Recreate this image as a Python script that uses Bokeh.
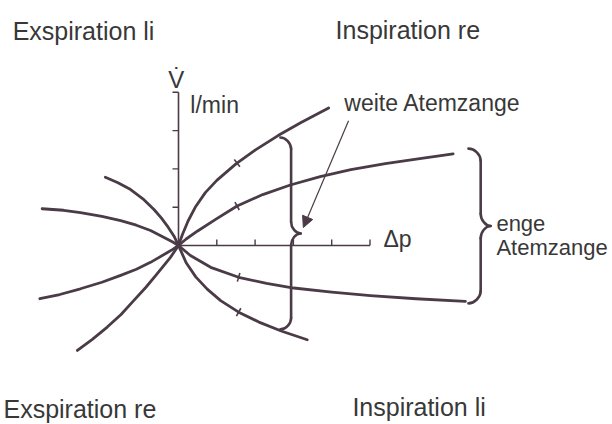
import numpy as np
from bokeh.plotting import figure
from bokeh.models import Label, Arrow, NormalHead, Range1d
from bokeh.embed import file_html
from bokeh.resources import INLINE

# Δp (x) and V̇ (y), in axis-tick units
# Inspiration re (upper right): weite / enge Atemzange
insp_re_weit_x = [0, 0.1, 0.25, 0.45, 0.7, 1.0, 1.5, 2.0, 2.6, 3.2, 3.92]
insp_re_weit_y = [0, 0.28, 0.64, 1.02, 1.38, 1.70, 2.13, 2.49, 2.87, 3.21, 3.59]
insp_re_eng_x = [0, 0.2, 0.5, 1.0, 1.53, 2.2, 2.92, 3.7, 4.5, 5.4, 6.3, 7.17]
insp_re_eng_y = [0, 0.17, 0.38, 0.70, 1.03, 1.33, 1.58, 1.80, 1.98, 2.14, 2.27, 2.39]
# Inspiration li (lower right)
insp_li_eng_x = [0, 0.31, 0.84, 1.57, 2.3, 3.01, 4.0, 5.01, 6.2, 7.49]
insp_li_eng_y = [0, -0.26, -0.57, -0.83, -0.99, -1.11, -1.22, -1.31, -1.39, -1.46]
insp_li_weit_x = [0, 0.2, 0.45, 0.75, 1.1, 1.57, 2.1, 2.7, 3.36]
insp_li_weit_y = [0, -0.45, -0.82, -1.14, -1.44, -1.74, -2.0, -2.24, -2.46]
# Exspiration li (upper left)
exsp_li_steil_x = [0, -0.12, -0.30, -0.45, -0.64, -0.93, -1.25, -1.58, -1.91]
exsp_li_steil_y = [0, 0.25, 0.52, 0.72, 0.94, 1.22, 1.46, 1.64, 1.78]
exsp_li_flach_x = [0, -0.15, -0.30, -0.73, -1.1, -1.51, -2.0, -2.56, -3.0, -3.56]
exsp_li_flach_y = [0, 0.09, 0.17, 0.39, 0.53, 0.65, 0.76, 0.86, 0.92, 0.96]
# Exspiration re (lower left)
exsp_re_flach_x = [0, -0.15, -0.30, -0.73, -1.1, -1.51, -2.0, -2.56, -3.1, -3.62]
exsp_re_flach_y = [0, -0.10, -0.19, -0.44, -0.62, -0.78, -0.96, -1.13, -1.28, -1.39]
exsp_re_steil_x = [0, -0.21, -0.56, -0.85, -1.17, -1.5, -1.86, -2.25, -2.64]
exsp_re_steil_y = [0, -0.31, -0.74, -1.09, -1.44, -1.80, -2.13, -2.45, -2.74]

# small marks on the four inspiration curves (Δp position)
curve_mark_x = [1.53, 1.53, 1.57, 1.57]

# axes
x_ticks = [1, 2, 3, 4, 5]
y_ticks = [1, 2, 3, 4]

LINE = "#4b3b47"
TEXT = "#383838"
FONT = "Liberation Sans"

UNIT = 38.3  # px per unit
OX, OY = 178, 245  # origin position in the picture
W, H = 612, 424
p = figure(width=W, height=H, output_backend="svg", toolbar_location=None,
           x_range=Range1d(-OX / UNIT, (W - OX) / UNIT),
           y_range=Range1d((OY - H) / UNIT, OY / UNIT),
           min_border=0)
p.axis.visible = False
p.grid.visible = False
p.outline_line_color = None
p.background_fill_color = "white"

curves = [
    (insp_re_weit_x, insp_re_weit_y), (insp_re_eng_x, insp_re_eng_y),
    (insp_li_eng_x, insp_li_eng_y), (insp_li_weit_x, insp_li_weit_y),
    (exsp_li_steil_x, exsp_li_steil_y), (exsp_li_flach_x, exsp_li_flach_y),
    (exsp_re_flach_x, exsp_re_flach_y), (exsp_re_steil_x, exsp_re_steil_y),
]
p.multi_line(xs=[c[0] for c in curves], ys=[c[1] for c in curves],
             line_color=LINE, line_width=2.8, line_cap="round", line_join="round")

# perpendicular marks on curves
mx, my, ma = [], [], []
for (cx, cy), tx in zip(curves[:4], curve_mark_x):
    cx = np.asarray(cx, float); cy = np.asarray(cy, float)
    slope = np.gradient(cy, cx)
    ty = float(np.interp(tx, cx, cy))
    s = float(np.interp(tx, cx, slope))
    mx.append(tx); my.append(ty); ma.append(np.arctan(s) + np.pi / 2)
p.scatter(mx, my, marker="dash", size=9, angle=ma, line_color=LINE, line_width=1.6)

# axes lines
p.line([0, x_ticks[-1]], [0, 0], line_color=LINE, line_width=1.6)
p.line([0, 0], [0, y_ticks[-1]], line_color=LINE, line_width=1.6)
tl = 6 / UNIT
p.segment(x0=x_ticks, y0=[0] * len(x_ticks), x1=x_ticks, y1=[tl] * len(x_ticks),
          line_color=LINE, line_width=1.4)
p.segment(x0=[0] * len(y_ticks), y0=y_ticks, x1=[-tl] * len(y_ticks), y1=y_ticks,
          line_color=LINE, line_width=1.4)


def brace(xl, xs, xc, y_top, y_bot, r):
    ym = (y_top + y_bot) / 2
    k = 0.5
    segs = [
        (xl, y_top, xs, y_top - r, xs - (xs - xl) * k, y_top, xs, y_top - r * k),
        (xs, y_top - r, xs, ym + r, xs, y_top - r, xs, ym + r),
        (xs, ym + r, xc, ym, xs, ym + r * k, xs + (xc - xs) * k, ym),
        (xc, ym, xs, ym - r, xs + (xc - xs) * k, ym, xs, ym - r * k),
        (xs, ym - r, xs, y_bot + r, xs, ym - r, xs, y_bot + r),
        (xs, y_bot + r, xl, y_bot, xs, y_bot + r * k, xs - (xs - xl) * k, y_bot),
    ]
    cols = list(zip(*segs))
    p.bezier(x0=list(cols[0]), y0=list(cols[1]), x1=list(cols[2]), y1=list(cols[3]),
             cx0=list(cols[4]), cy0=list(cols[5]), cx1=list(cols[6]), cy1=list(cols[7]),
             line_color=LINE, line_width=2.6, line_cap="round")


brace(2.66, 2.94, 3.19, 2.82, -2.19, 0.3)
brace(7.57, 7.89, 8.15, 2.53, -1.51, 0.32)

p.add_layout(Arrow(x_start=4.44, y_start=3.26, x_end=3.26, y_end=0.47,
                   line_color=LINE, line_width=1.2,
                   end=NormalHead(size=11, fill_color=LINE, line_color=LINE, line_width=1)))


def lab(x, y, t, size):
    p.add_layout(Label(x=x, y=y, text=t, text_font=FONT, text_font_size=size,
                       text_color=TEXT, text_baseline="alphabetic", text_align="left",
                       y_offset=8))


lab(-4.33, 5.40, "Exspiration li", "25px")
lab(4.10, 5.43, "Inspiration re", "25px")
lab(-4.57, -4.47, "Exspiration re", "25px")
lab(4.54, -4.42, "Inspiration li", "25px")
lab(4.33, 3.52, "weite Atemzange", "23px")
lab(8.30, 0.37, "enge", "22px")
lab(8.30, -0.26, "Atemzange", "22px")
lab(5.35, -0.03, "\u0394p", "23px")
lab(0.31, 3.45, "l/min", "23px")
lab(-0.27, 4.13, "V\u0307", "24px")

open("out.html", "w").write(file_html(p, INLINE))
